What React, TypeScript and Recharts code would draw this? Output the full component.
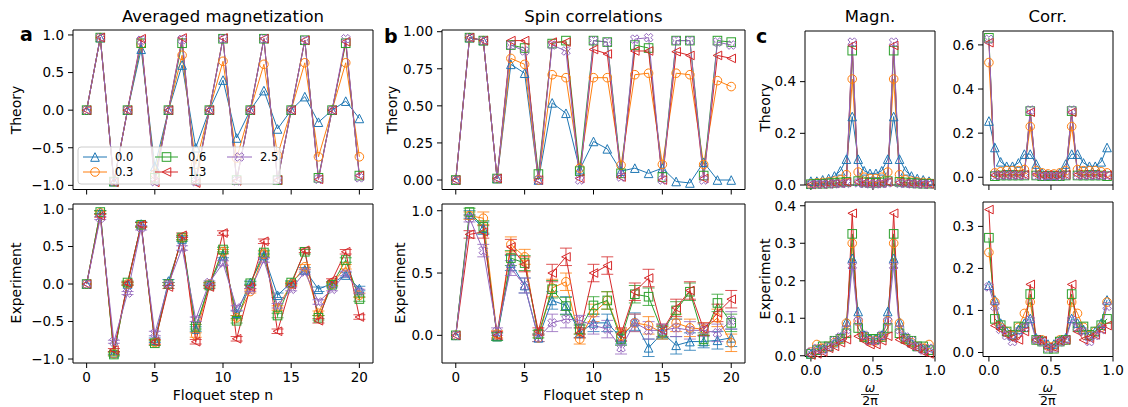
import React from 'react';
import { LineChart, Line, XAxis, YAxis, ReferenceArea, ErrorBar } from 'recharts';

// ---------------- data ----------------
const steps = [0, 1, 2, 3, 4, 5, 6, 7, 8, 9, 10, 11, 12, 13, 14, 15, 16, 17, 18, 19, 20];
const freqs = [0, 0.048, 0.095, 0.143, 0.19, 0.238, 0.286, 0.333, 0.381, 0.429, 0.476, 0.524, 0.571, 0.619, 0.667, 0.714, 0.762, 0.81, 0.857, 0.905, 0.952];
const strengthLabels = ['0.0', '0.3', '0.6', '1.3', '2.5'];

const stepTicks = [0, 5, 10, 15, 20];
const freqTicks = [0, 0.5, 1.0];
const magTicks = [-1, -0.5, 0, 0.5, 1];
const corrTheoryTicks = [0, 0.25, 0.5, 0.75, 1];
const corrExpTicks = [0, 0.5, 1];
const cMagTheoryTicks = [0, 0.2, 0.4];
const cMagExpTicks = [0, 0.1, 0.2, 0.3, 0.4];
const cCorrTheoryTicks = [0, 0.2, 0.4, 0.6];
const cCorrExpTicks = [0, 0.1, 0.2, 0.3];

// a: averaged magnetization, theory
const magTh00 = [0, 0.965, -0.95, 0, 0.81, -0.75, 0, 0.6, -0.5, 0, 0.4, -0.37, 0, 0.26, -0.25, 0, 0.18, -0.16, 0, 0.12, -0.11];
const magTh03 = [0, 0.965, -0.95, 0, 0.88, -0.85, 0, 0.73, -0.72, 0, 0.65, -0.64, 0, 0.61, -0.6, 0, 0.63, -0.62, 0, 0.63, -0.62];
const magTh06 = [0, 0.965, -0.95, 0, 0.89, -0.9, 0, 0.89, -0.92, 0, 0.95, -0.93, 0, 0.95, -0.93, 0, 0.93, -0.9, 0, 0.89, -0.87];
const magTh13 = [0, 0.965, -0.96, 0, 0.95, -0.96, 0, 0.96, -0.97, 0, 0.96, -0.94, 0, 0.95, -0.93, 0, 0.93, -0.92, 0, 0.91, -0.87];
const magTh25 = [0, 0.965, -0.95, 0, 0.93, -0.95, 0, 0.94, -0.95, 0, 0.95, -0.94, 0, 0.95, -0.93, 0, 0.93, -0.92, 0, 0.95, -0.9];

// a: averaged magnetization, experiment
const magEx00 = [0, 0.96, -0.92, 0, 0.8, -0.75, 0.04, 0.6, -0.6, 0, 0.38, -0.39, 0.02, 0.38, -0.15, 0.02, 0.19, -0.07, 0.01, 0.12, -0.06];
const magEx03 = [0, 0.95, -0.93, 0, 0.79, -0.78, 0, 0.62, -0.68, 0, 0.43, -0.45, -0.1, 0.4, -0.32, 0, 0.23, -0.39, 0, 0.23, -0.15];
const magEx06 = [0, 0.96, -0.94, 0.02, 0.79, -0.79, 0, 0.62, -0.57, -0.02, 0.46, -0.49, 0.01, 0.42, -0.42, 0.02, 0.43, -0.45, -0.01, 0.32, -0.2];
const magEx13 = [0, 0.91, -0.88, 0.01, 0.79, -0.77, -0.04, 0.65, -0.77, -0.04, 0.68, -0.73, -0.04, 0.57, -0.63, -0.01, 0.45, -0.49, 0.05, 0.43, -0.44];
const magEx25 = [0, 0.88, -0.77, -0.12, 0.75, -0.66, 0, 0.48, -0.47, 0.02, 0.28, -0.32, -0.08, 0.32, -0.29, -0.07, 0.16, -0.24, -0.07, 0.14, -0.1];
const magExErr = [0, 0.02, 0.02, 0.02, 0.03, 0.03, 0.02, 0.03, 0.03, 0.02, 0.03, 0.03, 0.02, 0.03, 0.03, 0.02, 0.03, 0.03, 0.02, 0.03, 0.03];

// b: spin correlations, theory
const corTh00 = [0, 0.96, 0.94, 0.01, 0.78, 0.72, 0, 0.52, 0.45, 0.07, 0.26, 0.21, 0.06, 0.08, 0.045, 0.08, -0.01, -0.02, 0.12, 0, 0];
const corTh03 = [0, 0.96, 0.94, 0.01, 0.82, 0.78, 0, 0.71, 0.69, 0.08, 0.69, 0.69, 0.1, 0.71, 0.72, 0.105, 0.72, 0.71, 0.105, 0.67, 0.63];
const corTh06 = [0, 0.96, 0.94, 0.01, 0.91, 0.89, 0.04, 0.92, 0.94, 0.06, 0.94, 0.93, 0.045, 0.91, 0.89, 0.02, 0.94, 0.94, 0.03, 0.94, 0.93];
const corTh13 = [0, 0.96, 0.94, 0.01, 0.94, 0.94, 0, 0.93, 0.93, 0.01, 0.88, 0.85, 0.02, 0.87, 0.87, 0, 0.865, 0.84, 0.01, 0.84, 0.82];
const corTh25 = [0, 0.96, 0.94, 0.01, 0.91, 0.87, 0, 0.91, 0.87, 0, 0.94, 0.93, 0.02, 0.95, 0.96, 0, 0.94, 0.94, 0, 0.93, 0.91];

// b: spin correlations, experiment
const corEx00 = [0, 0.97, 0.86, -0.01, 0.58, 0.4, -0.02, 0.28, 0.24, 0.02, 0.1, 0.1, -0.02, 0.11, -0.1, 0.02, -0.08, -0.05, -0.05, -0.04, -0.02];
const corEx03 = [0, 0.96, 0.94, 0.01, 0.73, 0.63, -0.02, 0.38, 0.43, -0.03, 0.18, 0.28, 0, 0.1, 0.08, 0.02, 0.1, 0.06, 0.05, 0.14, -0.06];
const corEx06 = [0, 0.99, 0.87, -0.01, 0.62, 0.58, 0.01, 0.37, 0.235, 0.05, 0.24, 0.28, -0.03, 0.33, 0.31, 0.03, 0.2, 0.35, -0.03, 0.26, 0.1];
const corEx13 = [0, 0.81, 0.83, 0, 0.71, 0.57, 0.03, 0.5, 0.63, 0.02, 0.5, 0.56, 0.01, 0.35, 0.46, 0.04, 0.22, 0.36, 0.05, 0.18, 0.29];
const corEx25 = [0, 0.94, 0.68, 0.03, 0.54, 0.4, -0.02, 0.1, 0.13, 0.12, 0.08, 0.05, -0.1, 0.1, 0.04, 0.04, 0.06, 0.04, 0.04, 0.02, 0.12];
const corExErr = [0, 0.03, 0.05, 0.03, 0.06, 0.06, 0.03, 0.07, 0.07, 0.04, 0.07, 0.07, 0.05, 0.07, 0.07, 0.05, 0.07, 0.07, 0.05, 0.07, 0.07];

// c: spectra of magnetization, theory
const fMagTh00 = [0.015, 0.015, 0.02, 0.025, 0.035, 0.055, 0.1, 0.265, 0.1, 0.055, 0.045, 0.045, 0.055, 0.1, 0.265, 0.1, 0.055, 0.035, 0.025, 0.02, 0.015];
const fMagTh03 = [0.005, 0.008, 0.01, 0.012, 0.015, 0.02, 0.04, 0.41, 0.05, 0.03, 0.025, 0.025, 0.03, 0.05, 0.41, 0.04, 0.02, 0.015, 0.012, 0.01, 0.008];
const fMagTh06 = [0.003, 0.005, 0.005, 0.006, 0.008, 0.01, 0.012, 0.52, 0.015, 0.01, 0.008, 0.008, 0.01, 0.015, 0.52, 0.012, 0.01, 0.008, 0.006, 0.005, 0.005];
const fMagTh13 = [0.002, 0.004, 0.004, 0.005, 0.006, 0.007, 0.01, 0.54, 0.012, 0.008, 0.006, 0.006, 0.008, 0.012, 0.54, 0.01, 0.007, 0.006, 0.005, 0.004, 0.004];
const fMagTh25 = [0.002, 0.003, 0.003, 0.004, 0.004, 0.005, 0.006, 0.553, 0.008, 0.005, 0.004, 0.004, 0.005, 0.008, 0.553, 0.006, 0.005, 0.004, 0.004, 0.003, 0.003];

// c: spectra of magnetization, experiment
const fMagEx00 = [0.005, 0.015, 0.02, 0.025, 0.035, 0.05, 0.09, 0.26, 0.118, 0.055, 0.045, 0.045, 0.055, 0.118, 0.26, 0.09, 0.05, 0.035, 0.025, 0.02, 0.015];
const fMagEx03 = [0.01, 0.03, 0.02, 0.025, 0.035, 0.045, 0.087, 0.3, 0.093, 0.05, 0.04, 0.04, 0.05, 0.093, 0.3, 0.087, 0.045, 0.035, 0.025, 0.02, 0.03];
const fMagEx06 = [0.005, 0.015, 0.025, 0.025, 0.04, 0.045, 0.06, 0.325, 0.074, 0.05, 0.045, 0.045, 0.05, 0.074, 0.325, 0.06, 0.045, 0.04, 0.025, 0.025, 0.015];
const fMagEx13 = [0.002, 0.005, 0.01, 0.02, 0.025, 0.035, 0.043, 0.38, 0.052, 0.04, 0.03, 0.03, 0.04, 0.052, 0.38, 0.043, 0.035, 0.025, 0.02, 0.01, 0.005];
const fMagEx25 = [0.01, 0.02, 0.015, 0.025, 0.04, 0.05, 0.07, 0.24, 0.092, 0.055, 0.04, 0.04, 0.055, 0.092, 0.24, 0.07, 0.05, 0.04, 0.025, 0.015, 0.02];

// c: spectra of correlations, theory
const fCorTh00 = [0.255, 0.135, 0.07, 0.05, 0.05, 0.065, 0.105, 0.105, 0.06, 0.02, 0.01, 0.01, 0.02, 0.06, 0.105, 0.105, 0.065, 0.05, 0.05, 0.07, 0.135];
const fCorTh03 = [0.52, 0.02, 0.025, 0.03, 0.03, 0.03, 0.035, 0.23, 0.03, 0.02, 0.015, 0.015, 0.02, 0.03, 0.23, 0.035, 0.03, 0.03, 0.03, 0.025, 0.02];
const fCorTh06 = [0.632, 0.005, 0.008, 0.008, 0.008, 0.008, 0.008, 0.3, 0.008, 0.005, 0.005, 0.005, 0.005, 0.008, 0.3, 0.008, 0.008, 0.008, 0.008, 0.008, 0.005];
const fCorTh13 = [0.61, 0.01, 0.012, 0.012, 0.012, 0.012, 0.012, 0.295, 0.012, 0.01, 0.01, 0.01, 0.01, 0.012, 0.295, 0.012, 0.012, 0.012, 0.012, 0.012, 0.01];
const fCorTh25 = [0.625, 0.008, 0.008, 0.008, 0.008, 0.008, 0.008, 0.305, 0.008, 0.005, 0.005, 0.005, 0.005, 0.008, 0.305, 0.008, 0.008, 0.008, 0.008, 0.008, 0.008];

// c: spectra of correlations, experiment
const fCorEx00 = [0.16, 0.125, 0.07, 0.05, 0.04, 0.055, 0.07, 0.081, 0.035, 0.03, 0.02, 0.02, 0.03, 0.035, 0.081, 0.07, 0.055, 0.04, 0.05, 0.07, 0.125];
const fCorEx03 = [0.238, 0.12, 0.06, 0.05, 0.04, 0.06, 0.093, 0.12, 0.03, 0.03, 0.015, 0.015, 0.03, 0.03, 0.12, 0.093, 0.06, 0.04, 0.05, 0.06, 0.12];
const fCorEx06 = [0.273, 0.08, 0.065, 0.05, 0.042, 0.062, 0.06, 0.139, 0.03, 0.026, 0.009, 0.009, 0.026, 0.03, 0.139, 0.06, 0.062, 0.042, 0.05, 0.065, 0.08];
const fCorEx13 = [0.34, 0.064, 0.055, 0.042, 0.034, 0.03, 0.05, 0.162, 0.03, 0.028, 0.012, 0.012, 0.028, 0.03, 0.162, 0.05, 0.03, 0.034, 0.042, 0.055, 0.064];
const fCorEx25 = [0.156, 0.11, 0.055, 0.04, 0.026, 0.05, 0.06, 0.077, 0.03, 0.025, 0.01, 0.01, 0.025, 0.03, 0.077, 0.06, 0.05, 0.026, 0.04, 0.055, 0.11];

// ---------------- styling ----------------
const FONT = "'DejaVu Sans', sans-serif";
const TICK_FS = 13.5;
const LABEL_FS = 14;
const COLORS = ['#1f77b4', '#ff7f0e', '#2ca02c', '#d62728', '#9467bd'];
const SHAPES = ['triUp', 'circle', 'square', 'triLeft', 'xFilled'];
const KEYS = ['s0', 's1', 's2', 's3', 's4'];
const MK = 4.3;

function buildRows(xs: number[], series: number[][], err?: number[]) {
  return xs.map((x, i) => {
    const row: any = { x };
    series.forEach((s, j) => { row[KEYS[j]] = s[i]; });
    if (err) row.e = err[i];
    return row;
  });
}

function Marker({ shape, cx, cy, color, h = MK }: any) {
  const st = { fill: 'none', stroke: color, strokeWidth: 1 };
  if (cx == null || cy == null) return null;
  switch (shape) {
    case 'triUp':
      return <polygon points={`${cx},${cy - h} ${cx - h},${cy + h} ${cx + h},${cy + h}`} {...st} />;
    case 'triLeft':
      return <polygon points={`${cx - h},${cy} ${cx + h},${cy - h} ${cx + h},${cy + h}`} {...st} />;
    case 'circle':
      return <circle cx={cx} cy={cy} r={h} {...st} />;
    case 'square':
      return <rect x={cx - h} y={cy - h} width={2 * h} height={2 * h} {...st} />;
    default: {
      const v = [[-1, -2], [0, -1], [1, -2], [2, -1], [1, 0], [2, 1], [1, 2], [0, 1], [-1, 2], [-2, 1], [-1, 0], [-2, -1]];
      const pts = v.map(([a, b]) => `${cx + (a * h) / 2},${cy + (b * h) / 2}`).join(' ');
      return <polygon points={pts} {...st} />;
    }
  }
}

const fmt = (d: number) => (v: number) => (v < 0 ? '\u2212' : '') + Math.abs(v).toFixed(d);

const YW = 70, XH = 40, MT = 12, MR = 12;

function Panel(p: any) {
  const { left, top, right, bottom, xDomain, yDomain, xTicks, yTicks, xDec, yDec, showX, rows, withErr } = p;
  const pw = right - left;
  const ph = bottom - top;
  const tickStyle = { fill: '#000', fontSize: TICK_FS, fontFamily: FONT };
  return (
    <div style={{ position: 'absolute', left: left - YW, top: top - MT }}>
      <LineChart width={pw + YW + MR} height={ph + MT + XH} data={rows} margin={{ top: MT, right: MR, bottom: 0, left: 0 }}>
        <XAxis
          dataKey="x"
          type="number"
          domain={xDomain}
          ticks={xTicks}
          interval={0}
          height={XH}
          axisLine={false}
          tickLine={{ stroke: '#000', strokeWidth: 1 }}
          tickSize={5}
          tickMargin={4}
          tick={tickStyle}
          tickFormatter={showX ? fmt(xDec) : () => ''}
        />
        <YAxis
          type="number"
          domain={yDomain}
          ticks={yTicks}
          interval={0}
          width={YW}
          axisLine={false}
          tickLine={{ stroke: '#000', strokeWidth: 1 }}
          tickSize={5}
          tickMargin={4}
          tick={tickStyle}
          tickFormatter={fmt(yDec)}
        />
        {KEYS.map((k, j) => (
          <Line
            key={k}
            dataKey={k}
            type="linear"
            stroke={COLORS[j]}
            strokeWidth={1}
            isAnimationActive={false}
            activeDot={false}
            dot={(dp: any) => (
              <Marker key={`${k}-${dp.index}`} shape={SHAPES[j]} cx={dp.cx} cy={dp.cy} color={COLORS[j]} />
            )}
          >
            {withErr && <ErrorBar dataKey="e" width={6} stroke={COLORS[j]} strokeWidth={1} strokeOpacity={0.8} />}
          </Line>
        ))}
        <ReferenceArea
          x1={xDomain[0]}
          x2={xDomain[1]}
          y1={yDomain[0]}
          y2={yDomain[1]}
          fill="none"
          fillOpacity={0}
          stroke="#000"
          strokeWidth={1}
          ifOverflow="visible"
        />
      </LineChart>
    </div>
  );
}

function Overlay() {
  const txt = { fontFamily: FONT, fill: '#000' } as any;
  const legendCols = [
    { l1: 83, l2: 107, tx: 115 },
    { l1: 155, l2: 178, tx: 188 },
    { l1: 227, l2: 252, tx: 260 },
  ];
  const legendRows = [157, 172];
  return (
    <svg width={1128} height={407} style={{ position: 'absolute', left: 0, top: 0, pointerEvents: 'none' }}>
      {/* panel letters */}
      <text x={20} y={41} fontSize={19} fontWeight="bold" {...txt}>a</text>
      <text x={384} y={43} fontSize={19} fontWeight="bold" {...txt}>b</text>
      <text x={756} y={43} fontSize={19} fontWeight="bold" {...txt}>c</text>
      {/* titles */}
      <text x={223} y={22} fontSize={16.5} textAnchor="middle" {...txt}>Averaged magnetization</text>
      <text x={593.5} y={22} fontSize={16.5} textAnchor="middle" {...txt}>Spin correlations</text>
      <text x={870} y={22} fontSize={16.5} textAnchor="middle" {...txt}>Magn.</text>
      <text x={1047.7} y={22} fontSize={16.5} textAnchor="middle" {...txt}>Corr.</text>
      {/* y labels */}
      <text transform="translate(16,110) rotate(-90)" fontSize={LABEL_FS} textAnchor="middle" dominantBaseline="central" {...txt}>Theory</text>
      <text transform="translate(16,283) rotate(-90)" fontSize={LABEL_FS} textAnchor="middle" dominantBaseline="central" {...txt}>Experiment</text>
      <text transform="translate(392,110) rotate(-90)" fontSize={LABEL_FS} textAnchor="middle" dominantBaseline="central" {...txt}>Theory</text>
      <text transform="translate(400,283) rotate(-90)" fontSize={LABEL_FS} textAnchor="middle" dominantBaseline="central" {...txt}>Experiment</text>
      <text transform="translate(765,107.5) rotate(-90)" fontSize={LABEL_FS} textAnchor="middle" dominantBaseline="central" {...txt}>Theory</text>
      <text transform="translate(765,279) rotate(-90)" fontSize={LABEL_FS} textAnchor="middle" dominantBaseline="central" {...txt}>Experiment</text>
      {/* x labels */}
      <text x={223} y={400} fontSize={LABEL_FS} textAnchor="middle" {...txt}>Floquet step n</text>
      <text x={593.5} y={400} fontSize={LABEL_FS} textAnchor="middle" {...txt}>Floquet step n</text>
      {[870, 1047.7].map((cx) => (
        <g key={cx}>
          <text x={cx} y={391.5} fontSize={12.5} fontStyle="italic" textAnchor="middle" {...txt}>ω</text>
          <line x1={cx - 9} x2={cx + 9} y1={394.5} y2={394.5} stroke="#000" strokeWidth={0.8} />
          <text x={cx} y={405} fontSize={12.5} textAnchor="middle" {...txt}>2π</text>
        </g>
      ))}
      {/* legend */}
      <rect x={78} y={147} width={202} height={37} rx={3} fill="#fff" fillOpacity={0.8} stroke="#cccccc" strokeWidth={1} />
      {strengthLabels.map((lab, i) => {
        const c = legendCols[Math.floor(i / 2)];
        const y = legendRows[i % 2];
        const mx = (c.l1 + c.l2) / 2;
        return (
          <g key={lab}>
            <line x1={c.l1} x2={c.l2} y1={y} y2={y} stroke={COLORS[i]} strokeWidth={1} />
            <Marker shape={SHAPES[i]} cx={mx} cy={y} color={COLORS[i]} />
            <text x={c.tx} y={y} fontSize={11.5} dominantBaseline="central" {...txt}>{lab}</text>
          </g>
        );
      })}
    </svg>
  );
}

export default function App() {
  const aTh = buildRows(steps, [magTh00, magTh03, magTh06, magTh13, magTh25]);
  const aEx = buildRows(steps, [magEx00, magEx03, magEx06, magEx13, magEx25], magExErr);
  const bTh = buildRows(steps, [corTh00, corTh03, corTh06, corTh13, corTh25]);
  const bEx = buildRows(steps, [corEx00, corEx03, corEx06, corEx13, corEx25], corExErr);
  const cMTh = buildRows(freqs, [fMagTh00, fMagTh03, fMagTh06, fMagTh13, fMagTh25]);
  const cMEx = buildRows(freqs, [fMagEx00, fMagEx03, fMagEx06, fMagEx13, fMagEx25]);
  const cCTh = buildRows(freqs, [fCorTh00, fCorTh03, fCorTh06, fCorTh13, fCorTh25]);
  const cCEx = buildRows(freqs, [fCorEx00, fCorEx03, fCorEx06, fCorEx13, fCorEx25]);

  const stepDom = [-1, 21];
  const freqDom = [-0.0476, 1.0];

  return (
    <div style={{ position: 'absolute', left: 0, top: 0, width: 1128, height: 407, background: '#fff', overflow: 'hidden', fontFamily: FONT }}>
      <Panel left={73} top={30} right={373} bottom={189.5} xDomain={stepDom} yDomain={[-1.055, 1.066]} xTicks={stepTicks} yTicks={magTicks} xDec={0} yDec={1} showX={false} rows={aTh} />
      <Panel left={73} top={204} right={373} bottom={363} xDomain={stepDom} yDomain={[-1.053, 1.067]} xTicks={stepTicks} yTicks={magTicks} xDec={0} yDec={1} showX={true} rows={aEx} withErr />
      <Panel left={442} top={30} right={745} bottom={189.5} xDomain={stepDom} yDomain={[-0.064, 1.0115]} xTicks={stepTicks} yTicks={corrTheoryTicks} xDec={0} yDec={2} showX={false} rows={bTh} />
      <Panel left={442} top={204} right={745} bottom={363} xDomain={stepDom} yDomain={[-0.222, 1.054]} xTicks={stepTicks} yTicks={corrExpTicks} xDec={0} yDec={1} showX={true} rows={bEx} withErr />
      <Panel left={805} top={30.5} right={935} bottom={184.5} xDomain={freqDom} yDomain={[0, 0.596]} xTicks={freqTicks} yTicks={cMagTheoryTicks} xDec={1} yDec={1} showX={false} rows={cMTh} />
      <Panel left={805} top={202} right={935} bottom={356.5} xDomain={freqDom} yDomain={[-0.002, 0.41]} xTicks={freqTicks} yTicks={cMagExpTicks} xDec={1} yDec={1} showX={true} rows={cMEx} />
      <Panel left={982.7} top={30.5} right={1112.7} bottom={184.5} xDomain={freqDom} yDomain={[-0.035, 0.663]} xTicks={freqTicks} yTicks={cCorrTheoryTicks} xDec={1} yDec={1} showX={false} rows={cCTh} />
      <Panel left={982.7} top={202} right={1112.7} bottom={356.5} xDomain={freqDom} yDomain={[-0.0095, 0.358]} xTicks={freqTicks} yTicks={cCorrExpTicks} xDec={1} yDec={1} showX={true} rows={cCEx} />
      <Overlay />
    </div>
  );
}
